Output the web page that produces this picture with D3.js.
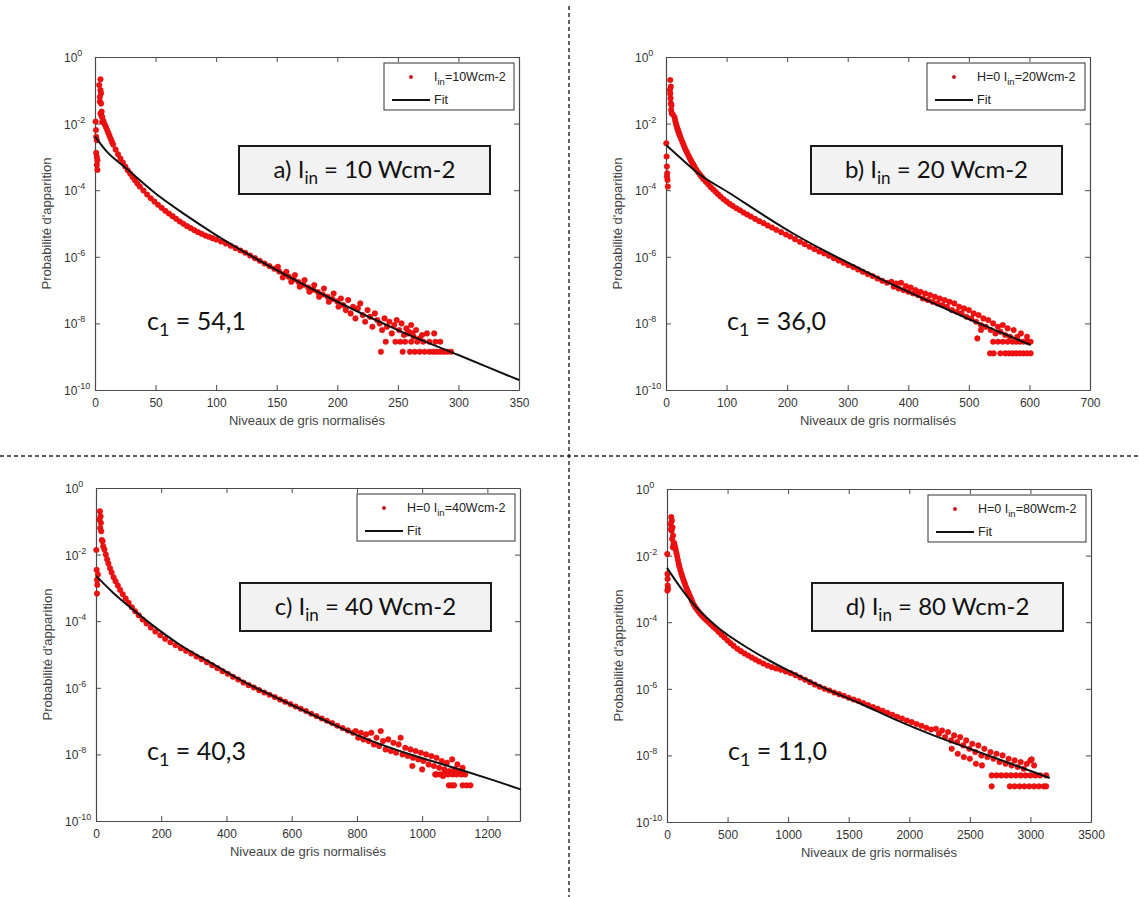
<!DOCTYPE html>
<html><head><meta charset="utf-8">
<script src="https://cdn.jsdelivr.net/npm/d3@7"></script>
<style>body{margin:0;background:#fff}svg{display:block}</style>
</head><body>
<svg id="chart" width="1139" height="897"></svg>
<script>
// ---------- DATA (x = niveau de gris, v = log10 of probability) ----------
const yTickExps = [0, -2, -4, -6, -8, -10];
const xTicksA = [0, 50, 100, 150, 200, 250, 300, 350];
const xTicksB = [0, 100, 200, 300, 400, 500, 600, 700];
const xTicksC = [0, 200, 400, 600, 800, 1000, 1200];
const xTicksD = [0, 500, 1000, 1500, 2000, 2500, 3000, 3500];

const panelLetters = ["a", "b", "c", "d"];
const intensities = [10, 20, 40, 80];
const c1Values = ["54,1", "36,0", "40,3", "11,0"];
const legendPrefixes = ["", "H=0 ", "H=0 ", "H=0 "];

// panel a
const aPeak = [[0.5,-1.94],[0.8,-2.19],[1.0,-2.40],[1.5,-2.50],[1.0,-2.88],[1.5,-3.00],[2.0,-3.10],[1.5,-3.24],[2.0,-3.39],
 [4.5,-0.67],[3.5,-0.84],[4.5,-0.99],[5.0,-1.09],[4.0,-1.20],[4.0,-1.34],[5.0,-1.40],[5.5,-1.64],[4.5,-1.70],[5.5,-1.79],[6.0,-1.95]];
const aBand = [[6,-1.80],[7,-1.92],[8,-2.02],[9,-2.10],[10,-2.19],[11,-2.28],[12,-2.37],[13,-2.46],[14,-2.55],[15,-2.63],[17,-2.78],[19,-2.92],[21,-3.05],[23,-3.17],[25,-3.29],[27,-3.40],[29,-3.50],[31,-3.60],[33,-3.70],[35,-3.80],[37,-3.89],[40,-4.01],[43,-4.13],[46,-4.24],[49,-4.34],[52,-4.44],[55,-4.53],[58,-4.62],[61,-4.70],[64,-4.78],[67,-4.86],[70,-4.94],[73,-5.01],[76,-5.08],[79,-5.14],[82,-5.20],[85,-5.26],[88,-5.31],[91,-5.36],[94,-5.40],[97,-5.44],[100,-5.48],[104,-5.54],[108,-5.60],[112,-5.67],[116,-5.74],[120,-5.81],[124,-5.88],[128,-5.96],[132,-6.04],[136,-6.12],[140,-6.20],[144,-6.28],[148,-6.36],[152,-6.44],[156,-6.52],[160,-6.60],[164,-6.68],[168,-6.76],[172,-6.84],[176,-6.92],[180,-6.99],[184,-7.06],[188,-7.13],[192,-7.20],[196,-7.27],[200,-7.34]];
const aTail = [[151,-6.30],[155,-6.62],[158,-6.45],[162,-6.75],[165,-6.55],[169,-6.90],[173,-6.70],[177,-7.05],[181,-6.85],[185,-7.20],[189,-6.95],[193,-7.35],[197,-7.10],[201,-7.50],[203,-7.25],[205,-7.45],[207,-7.60],[209,-7.30],[211,-7.70],[213,-7.50],[215,-7.85],[217,-7.55],[219,-7.40],[221,-7.75],[223,-7.95],[225,-7.60],[227,-7.80],[229,-8.10],[231,-7.70],[233,-7.90],[235,-8.00],[237,-8.20],[239,-7.85],[241,-8.10],[243,-7.95],[245,-8.30],[247,-8.05],[249,-7.90],[251,-8.20],[253,-8.00],[255,-8.35],[257,-8.15],[259,-8.25],[261,-8.05],[263,-8.40],[265,-8.20],[268,-8.45],[270,-8.35],[258,-8.30],[262,-8.30],[274,-8.30],[280,-8.30],
 [240,-8.55],[248,-8.55],[252,-8.55],[256,-8.55],[261,-8.55],[266,-8.55],[271,-8.55],[276,-8.55],[281,-8.55],[285,-8.55],
 [236,-8.85],[254,-8.85],[260,-8.85],[264,-8.85],[268,-8.85],[272,-8.85],[276,-8.85],[279,-8.85],[282,-8.85],[285,-8.85],[288,-8.85],[291,-8.85],[294,-8.85]];
const aFit = [[0,-2.39],[10,-2.85],[25,-3.32],[50,-4.10],[75,-4.75],[100,-5.35],[150,-6.40],[200,-7.35],[250,-8.20],[300,-8.95],[350,-9.70]];

// panel b
const bPeak = [[0.5,-2.59],[1,-2.99],[1.5,-3.29],[2,-3.49],[2.5,-3.69],[3,-3.89],[1.5,-3.59],
 [7,-0.69],[8,-0.89],[6.5,-0.99],[7.5,-1.24],[8,-1.39],[8.5,-1.59],[9.5,-1.69],[7,-1.10],[9,-1.45],[11,-1.72]];
const bBand = [[14,-1.80],[15,-1.89],[16,-1.97],[17,-2.04],[18,-2.10],[19,-2.16],[20,-2.21],[21,-2.27],[22,-2.32],[23,-2.37],[25,-2.46],[27,-2.55],[29,-2.64],[31,-2.73],[33,-2.81],[35,-2.88],[37,-2.96],[39,-3.03],[41,-3.10],[43,-3.17],[45,-3.23],[47,-3.29],[50,-3.38],[53,-3.46],[56,-3.53],[59,-3.60],[62,-3.67],[66,-3.75],[70,-3.83],[74,-3.91],[78,-3.98],[82,-4.05],[86,-4.12],[90,-4.19],[95,-4.27],[100,-4.34],[105,-4.41],[110,-4.47],[116,-4.54],[122,-4.60],[128,-4.67],[134,-4.73],[140,-4.79],[147,-4.86],[154,-4.93],[161,-4.99],[168,-5.06],[175,-5.12],[182,-5.19],[190,-5.26],[198,-5.33],[205,-5.39],[213,-5.47],[221,-5.55],[229,-5.62],[237,-5.70],[245,-5.77],[253,-5.84],[261,-5.90],[269,-5.97],[277,-6.04],[285,-6.11],[293,-6.18],[301,-6.25],[309,-6.31],[317,-6.38],[325,-6.45],[333,-6.52],[341,-6.58],[349,-6.65],[357,-6.72],[365,-6.78]];
const bTail = [[372,-6.75],[376,-6.90],[380,-6.80],[384,-6.95],[388,-6.78],[392,-7.00],[396,-6.88],[400,-7.05],[404,-6.92],[408,-7.10],[412,-7.00],[416,-7.15],[420,-7.05],[424,-7.25],[428,-7.10],[432,-7.30],[436,-7.15],[440,-7.35],[444,-7.20],[448,-7.40],[452,-7.25],[456,-7.45],[460,-7.30],[464,-7.50],[468,-7.35],[472,-7.60],[476,-7.40],[480,-7.65],[484,-7.50],[488,-7.70],[492,-7.55],[496,-7.80],[500,-7.60],[504,-7.85],[508,-7.70],[512,-7.95],[516,-7.75],[520,-8.05],[524,-7.85],[528,-8.10],[532,-7.90],[536,-8.20],[540,-8.00],[544,-8.30],[548,-8.10],[552,-8.25],[556,-8.05],[560,-8.35],[564,-8.15],[568,-8.40],[574,-8.20],[580,-8.40],[586,-8.30],[596,-8.40],[514,-8.45],[520,-8.20],
 [540,-8.55],[548,-8.55],[556,-8.55],[564,-8.55],[572,-8.55],[578,-8.55],[584,-8.55],[590,-8.55],[596,-8.55],[602,-8.55],
 [535,-8.90],[541,-8.90],[552,-8.90],[560,-8.90],[566,-8.90],[572,-8.90],[578,-8.90],[584,-8.90],[590,-8.90],[596,-8.90],[602,-8.90]];
const bFit = [[0,-2.64],[25,-3.05],[53,-3.49],[106,-4.10],[161,-4.75],[210,-5.30],[260,-5.80],[312,-6.28],[370,-6.80],[434,-7.33],[495,-7.83],[550,-8.25],[602,-8.65]];

// panel c
const cPeak = [[1,-1.86],[2,-2.46],[3,-2.76],[4,-2.91],[3,-3.17],[6,-2.60],
 [12,-0.70],[14,-0.85],[11,-0.95],[13,-1.20],[16,-1.30],[18,-1.56],[20,-1.60],[15,-1.05],[22,-1.75]];
const cBand = [[26,-1.85],[30,-2.00],[34,-2.14],[38,-2.27],[43,-2.41],[48,-2.54],[54,-2.68],[60,-2.80],[67,-2.93],[74,-3.06],[82,-3.19],[91,-3.32],[100,-3.45],[110,-3.58],[120,-3.70],[131,-3.82],[143,-3.95],[155,-4.07],[168,-4.19],[182,-4.31],[197,-4.42],[212,-4.53],[228,-4.63],[244,-4.72],[260,-4.81],[276,-4.89],[292,-4.97],[308,-5.06],[324,-5.14],[340,-5.23],[356,-5.32],[372,-5.41],[388,-5.50],[404,-5.58],[420,-5.67],[436,-5.75],[452,-5.84],[468,-5.92],[484,-5.99],[500,-6.07],[516,-6.14],[532,-6.21],[548,-6.28],[564,-6.35],[580,-6.42],[596,-6.49],[612,-6.56],[628,-6.63],[644,-6.70],[660,-6.78],[676,-6.85],[692,-6.92],[708,-6.99],[724,-7.06],[740,-7.14],[756,-7.21],[772,-7.28],[788,-7.35]];
const cTail = [[796,-7.30],[804,-7.50],[812,-7.35],[820,-7.55],[828,-7.40],[836,-7.60],[844,-7.35],[852,-7.70],[860,-7.50],[868,-7.75],[873,-7.30],[880,-7.60],[888,-7.85],[896,-7.55],[904,-7.90],[912,-7.65],[920,-7.95],[928,-7.70],[934,-7.50],[940,-8.00],[948,-7.80],[956,-8.05],[964,-7.85],[972,-8.10],[980,-7.90],[988,-8.15],[996,-7.95],[1004,-8.20],[1012,-8.00],[1020,-8.30],[1028,-8.05],[1036,-8.35],[1044,-8.10],[1052,-8.40],[1060,-8.20],[1068,-8.45],[1076,-8.25],[1084,-8.50],[1092,-8.15],[1100,-8.45],[1108,-8.30],[1116,-8.50],[1124,-8.40],[970,-8.35],[1000,-8.45],[1040,-8.60],[1064,-8.65],
 [1044,-8.60],[1056,-8.60],[1068,-8.60],[1080,-8.60],[1094,-8.60],[1106,-8.60],[1120,-8.60],[1132,-8.60],
 [1082,-8.93],[1090,-8.93],[1098,-8.93],[1124,-8.93],[1136,-8.93],[1148,-8.93]];
const cFit = [[0,-2.64],[50,-3.12],[113,-3.65],[168,-4.08],[256,-4.70],[366,-5.33],[450,-5.80],[550,-6.28],[697,-6.96],[800,-7.42],[917,-7.85],[1030,-8.20],[1137,-8.52],[1220,-8.78],[1302,-9.05]];

// panel d
const dPeak = [[2,-1.95],[4,-2.55],[6,-2.90],[8,-3.00],[5,-2.70],[3,-3.05],
 [35,-0.84],[40,-0.95],[30,-1.05],[45,-1.15],[38,-1.25],[50,-1.40],[42,-1.50],[54,-1.65],[48,-1.75],[33,-1.20]];
const dBand = [[60,-1.62],[66,-1.72],[72,-1.82],[78,-1.92],[84,-2.02],[90,-2.13],[96,-2.24],[102,-2.33],[110,-2.43],[118,-2.53],[126,-2.62],[134,-2.71],[142,-2.79],[150,-2.87],[159,-2.96],[168,-3.04],[178,-3.12],[188,-3.21],[198,-3.29],[208,-3.37],[219,-3.46],[232,-3.54],[246,-3.61],[260,-3.68],[275,-3.75],[290,-3.81],[305,-3.87],[322,-3.93],[340,-3.99],[360,-4.06],[380,-4.13],[400,-4.20],[425,-4.29],[450,-4.38],[475,-4.46],[500,-4.55],[525,-4.63],[550,-4.71],[580,-4.80],[610,-4.87],[640,-4.94],[670,-5.00],[700,-5.06],[730,-5.12],[760,-5.18],[795,-5.24],[830,-5.30],[865,-5.35],[900,-5.39],[940,-5.43],[980,-5.48],[1020,-5.53],[1060,-5.59],[1100,-5.66],[1140,-5.73],[1180,-5.80],[1220,-5.87],[1260,-5.94],[1300,-6.00],[1340,-6.05],[1380,-6.11],[1420,-6.16],[1460,-6.21],[1500,-6.27],[1540,-6.32],[1580,-6.37],[1620,-6.43],[1660,-6.49],[1700,-6.55],[1740,-6.60],[1780,-6.66],[1820,-6.72],[1860,-6.78],[1900,-6.84],[1940,-6.89],[1980,-6.95],[2020,-7.00],[2060,-7.06],[2100,-7.11],[2140,-7.17],[2180,-7.22]];
const dTail = [[2220,-7.20],[2245,-7.35],[2270,-7.25],[2295,-7.45],[2320,-7.30],[2345,-7.55],[2370,-7.40],[2395,-7.60],[2420,-7.45],[2445,-7.70],[2470,-7.55],[2495,-7.80],[2520,-7.65],[2545,-7.90],[2570,-7.70],[2595,-8.00],[2620,-7.80],[2645,-8.05],[2670,-7.90],[2695,-8.10],[2720,-7.95],[2745,-8.20],[2770,-8.00],[2795,-8.25],[2820,-8.10],[2845,-8.30],[2870,-8.15],[2895,-8.35],[2920,-8.20],[2945,-8.40],[2970,-8.25],[3000,-8.15],[3010,-8.12],[3030,-8.30],[2400,-7.95],[2450,-8.05],[2500,-8.10],[2550,-8.25],[2600,-8.30],[2350,-7.80],
 [2680,-8.60],[2720,-8.60],[2760,-8.60],[2800,-8.60],[2840,-8.60],[2880,-8.60],[2920,-8.60],[2960,-8.60],[3000,-8.60],[3040,-8.60],[3080,-8.60],[3130,-8.60],
 [2680,-8.93],[2830,-8.93],[2870,-8.93],[2910,-8.93],[2950,-8.93],[2990,-8.93],[3030,-8.93],[3070,-8.93],[3110,-8.93],[3130,-8.93]];
const dFit = [[0,-2.37],[100,-2.90],[219,-3.46],[400,-4.10],[700,-4.85],[1000,-5.45],[1300,-5.98],[1600,-6.45],[1900,-6.95],[2200,-7.40],[2500,-7.80],[2800,-8.20],[3160,-8.68]];

// ---------- LAYOUT ----------
const panels = [
  {left:95,  top:57,  xMax:350,  xTicks:xTicksA, pts:[aPeak,aBand,aTail], fit:aFit, legW:130, box:[239,146], c1:[147,330]},
  {left:666, top:57,  xMax:700,  xTicks:xTicksB, pts:[bPeak,bBand,bTail], fit:bFit, legW:158, box:[811,146], c1:[727,330]},
  {left:96,  top:488, xMax:1300, xTicks:xTicksC, pts:[cPeak,cBand,cTail], fit:cFit, legW:158, box:[240,583], c1:[147,760]},
  {left:667, top:489, xMax:3500, xTicks:xTicksD, pts:[dPeak,dBand,dTail], fit:dFit, legW:158, box:[812,583], c1:[728,760]}
];
const W = 424, H = 333;
const axisFont = "'Liberation Sans', Arial, Helvetica, sans-serif";
const boxFont = "Lato, 'Open Sans', 'Noto Sans', sans-serif";
const axisColor = "#4a4a4a";

const svg = d3.select("#chart");

// dashed separators
svg.append("line").attr("x1",569).attr("x2",569).attr("y1",6).attr("y2",897)
  .attr("stroke","#222").attr("stroke-width",1.4).attr("stroke-dasharray","4,3");
svg.append("line").attr("x1",0).attr("x2",1139).attr("y1",456).attr("y2",456)
  .attr("stroke","#222").attr("stroke-width",1.4).attr("stroke-dasharray","4,3");

panels.forEach((p, i) => {
  const g = svg.append("g");
  const x = d3.scaleLinear().domain([0, p.xMax]).range([p.left, p.left + W]);
  const y = d3.scaleLog().domain([1e-10, 1]).range([p.top + H, p.top]);
  const yTickVals = yTickExps.map(e => Math.pow(10, e));

  const styleAxis = sel => {
    sel.select(".domain").attr("stroke", axisColor).attr("stroke-width", 1.2);
    sel.selectAll(".tick line").attr("stroke", axisColor).attr("stroke-width", 1);
  };
  g.append("g").attr("transform", `translate(0,${p.top + H})`)
    .call(d3.axisBottom(x).tickValues(p.xTicks).tickSizeInner(-5).tickSizeOuter(0).tickPadding(8).tickFormat(d3.format("d")))
    .call(styleAxis)
    .call(s => s.selectAll(".tick text").attr("font-family", axisFont).attr("font-size", 12).attr("fill", "#333"));
  g.append("g").attr("transform", `translate(0,${p.top})`)
    .call(d3.axisTop(x).tickValues(p.xTicks).tickSizeInner(-5).tickSizeOuter(0).tickFormat(""))
    .call(styleAxis);
  g.append("g").attr("transform", `translate(${p.left},0)`)
    .call(d3.axisLeft(y).tickValues(yTickVals).tickSizeInner(-5).tickSizeOuter(0).tickFormat(""))
    .call(styleAxis);
  g.append("g").attr("transform", `translate(${p.left + W},0)`)
    .call(d3.axisRight(y).tickValues(yTickVals).tickSizeInner(-5).tickSizeOuter(0).tickFormat(""))
    .call(styleAxis);

  yTickExps.forEach(e => {
    const t = g.append("text").attr("x", p.left - 31).attr("y", y(Math.pow(10, e)) + 5)
      .attr("font-family", axisFont).attr("font-size", 12).attr("fill", "#333");
    t.append("tspan").text("10");
    t.append("tspan").attr("dy", -6).attr("font-size", 9).text(String(e));
  });

  g.append("text").attr("x", p.left + W / 2).attr("y", p.top + H + 35)
    .attr("text-anchor", "middle").attr("font-family", axisFont).attr("font-size", 13).attr("fill", "#444")
    .text("Niveaux de gris normalisés");
  g.append("text").attr("transform", `translate(${p.left - 44},${p.top + H / 2}) rotate(-90)`)
    .attr("text-anchor", "middle").attr("font-family", axisFont).attr("font-size", 13).attr("fill", "#444")
    .text("Probabilité d'apparition");

  const allPts = p.pts.flat();
  g.append("g").selectAll("circle").data(allPts).join("circle")
    .attr("cx", d => x(d[0])).attr("cy", d => y(Math.pow(10, d[1])))
    .attr("r", 2.8).attr("fill", "#f21212").attr("stroke", "#c80000").attr("stroke-width", 0.4);

  const line = d3.line().x(d => x(d[0])).y(d => y(Math.pow(10, d[1]))).curve(d3.curveMonotoneX);
  g.append("path").datum(p.fit).attr("d", line).attr("fill", "none")
    .attr("stroke", "#111").attr("stroke-width", 2);

  const lx = p.left + W - 5 - p.legW, ly = p.top + 6;
  g.append("rect").attr("x", lx).attr("y", ly).attr("width", p.legW).attr("height", 47)
    .attr("fill", "#fff").attr("stroke", "#333").attr("stroke-width", 1);
  g.append("circle").attr("cx", lx + 27).attr("cy", ly + 14).attr("r", 1.8)
    .attr("fill", "#d01020").attr("stroke", "#900").attr("stroke-width", 0.4);
  const lt = g.append("text").attr("x", lx + 50).attr("y", ly + 18)
    .attr("font-family", axisFont).attr("font-size", 12.5).attr("fill", "#222");
  lt.append("tspan").text(legendPrefixes[i] + "I");
  lt.append("tspan").attr("dy", 4).attr("font-size", 9.5).text("in");
  lt.append("tspan").attr("dy", -4).text(`=${intensities[i]}Wcm-2`);
  g.append("line").attr("x1", lx + 8).attr("x2", lx + 46).attr("y1", ly + 37).attr("y2", ly + 37)
    .attr("stroke", "#111").attr("stroke-width", 2);
  g.append("text").attr("x", lx + 50).attr("y", ly + 41)
    .attr("font-family", axisFont).attr("font-size", 12.5).attr("fill", "#222").text("Fit");

  const [bx, by] = p.box;
  g.append("rect").attr("x", bx).attr("y", by).attr("width", 251).attr("height", 48)
    .attr("fill", "#f2f2f2").attr("stroke", "#1a1a1a").attr("stroke-width", 2);
  const tt = g.append("text").attr("x", bx + 125.5).attr("y", by + 32).attr("text-anchor", "middle")
    .attr("font-family", boxFont).attr("font-size", 24).attr("fill", "#111");
  tt.append("tspan").text(`${panelLetters[i]}) I`);
  tt.append("tspan").attr("dy", 6).attr("font-size", 17).text("in");
  tt.append("tspan").attr("dy", -6).text(` = ${intensities[i]} Wcm-2`);

  const ct = g.append("text").attr("x", p.c1[0]).attr("y", p.c1[1])
    .attr("font-family", boxFont).attr("font-size", 25).attr("fill", "#111");
  ct.append("tspan").text("c");
  ct.append("tspan").attr("dy", 6).attr("font-size", 18).text("1");
  ct.append("tspan").attr("dy", -6).text(` = ${c1Values[i]}`);
});
</script>
</body></html>
